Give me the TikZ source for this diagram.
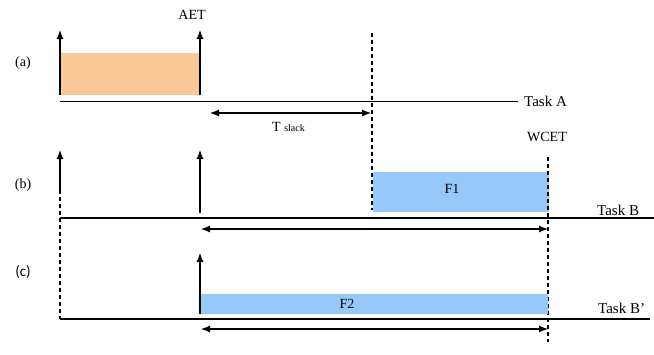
\documentclass[tikz,border=0pt]{standalone}
\usepackage{fontspec}
\setmainfont{Liberation Serif}
\newfontfamily\calfont{Carlito}
\usetikzlibrary{arrows.meta}
\definecolor{orangefill}{RGB}{250,200,150}
\definecolor{bluefill}{RGB}{150,200,250}
\begin{document}
\begin{tikzpicture}[x=1pt,y=-1pt,
  lbl/.style={font=\fontsize{14}{16}\selectfont, inner sep=0pt},
  tlbl/.style={font=\fontsize{15}{17}\selectfont, inner sep=0pt},
  axis/.style={line width=1.4pt},
  thinaxis/.style={line width=0.9pt},
  upar/.style={line width=1.1pt, -{Latex[length=9pt,width=7pt]}},
  dbl/.style={line width=1.1pt, {Latex[length=9pt,width=7pt]}-{Latex[length=9pt,width=7pt]}},
  dsh/.style={line width=1.6pt, dash pattern=on 4pt off 3pt},
  fillbox/.style={draw=none, inner sep=0pt}]
\useasboundingbox (0,0) rectangle (654,354);
% ---- (a)
\fill[orangefill] (60,53) rectangle (200,95);
\node[lbl] (la) at (23,63) {(a)};
\node[lbl] (aet) at (192,15) {AET};
\coordinate (a0) at (60,101);
\coordinate (a0t) at (60,30);
\coordinate (a1) at (200,95);
\coordinate (a1t) at (200,30);
\draw[upar] (60,95) -- (a0t);
\draw[upar] (a1) -- (a1t);
\coordinate (aend) at (518,101);
\draw[thinaxis] (a0) -- (aend);
\node[tlbl, anchor=west] (taska) at (524,101) {Task A};
\coordinate (ts0) at (210,113);
\coordinate (ts1) at (371,113);
\draw[dbl] (ts0) -- (ts1);
\node[lbl, anchor=west] (tslack) at (272,127) {T {\fontsize{10}{12}\selectfont slack}};
% dashed at end of slack
\coordinate (d1t) at (372,33);
\coordinate (d1b) at (372,210);
\draw[dsh] (d1t) -- (d1b);
% ---- (b)
\node[fillbox, fill=bluefill, minimum width=176pt, minimum height=40pt, anchor=north west] (f1) at (373,172) {};
\node[lbl] at (452,189) {F1};
\node[lbl] (lb) at (23,185) {(b)};
\node[lbl] (wcet) at (547,137) {WCET};
\coordinate (b0) at (60,218);
\coordinate (bend) at (654,218);
\draw[axis] (b0) -- (bend);
\node[tlbl, anchor=west] (taskb) at (597,210) {Task B};
\draw[upar] (60,190) -- (60,150);
\draw[dsh] (60,190) -- (b0);
\draw[upar] (200,213) -- (200,150);
\coordinate (bs0) at (201,229);
\coordinate (bs1) at (548,229);
\draw[dbl] (bs0) -- (bs1);
\coordinate (d2t) at (548,157);
\coordinate (d2b) at (548,342);
\draw[dsh] (d2t) -- (d2b);
% ---- (c)
\node[fillbox, fill=bluefill, minimum width=348pt, minimum height=20pt, anchor=north west] (f2) at (200,294) {};
\node[lbl] at (347,304) {F2};
\node[lbl, font=\calfont\fontsize{15}{17}\selectfont] (lc) at (23,272) {(c)};
\coordinate (c0) at (60,319);
\coordinate (cend) at (650,319);
\draw[dsh] (b0) -- (c0);
\draw[axis] (c0) -- (cend);
\node[tlbl, anchor=west] (taskbp) at (598,308) {Task B'};
\draw[upar] (200,314) -- (200,253);
\coordinate (cs0) at (201,329);
\coordinate (cs1) at (548,329);
\draw[dbl] (cs0) -- (cs1);
\end{tikzpicture}
\end{document}
